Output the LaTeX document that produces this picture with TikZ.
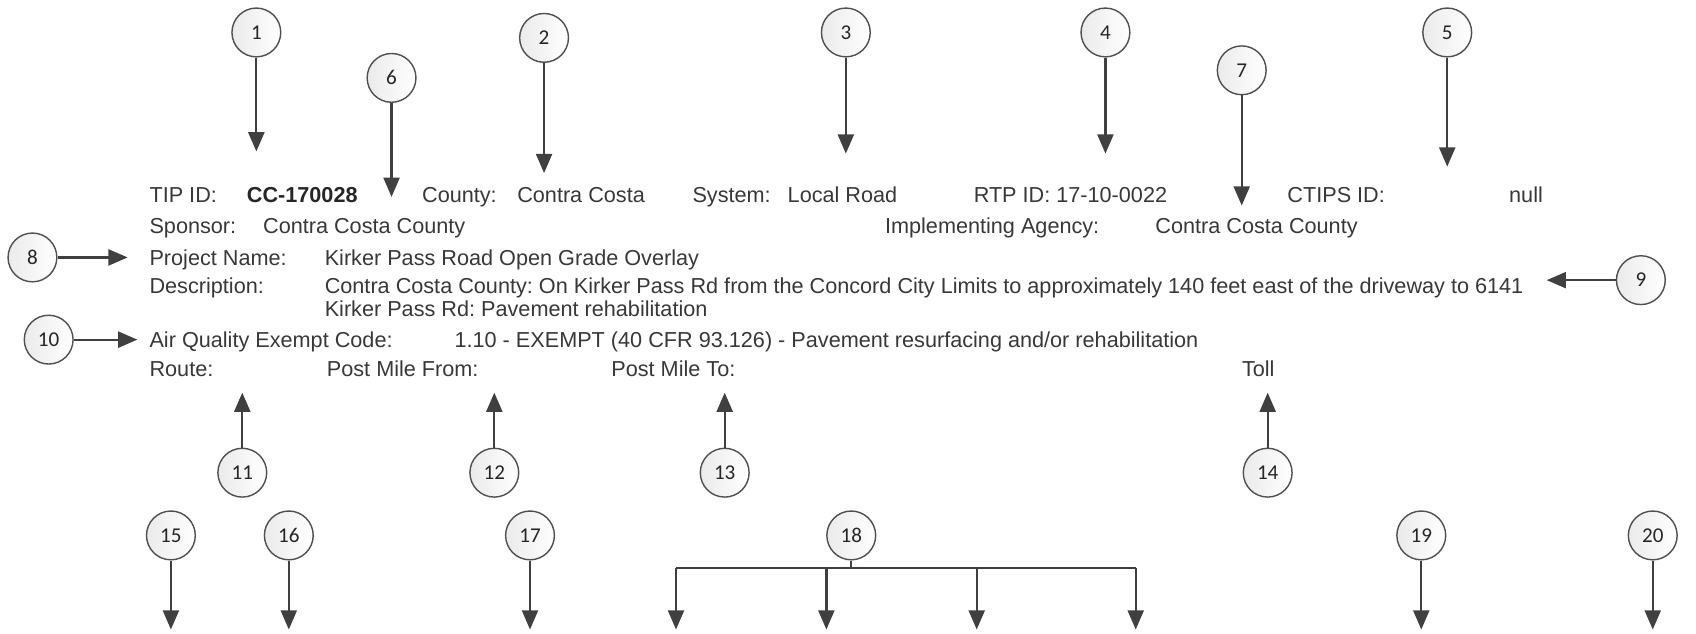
\documentclass[tikz,border=0pt]{standalone}
\usepackage{fontspec}
\setmainfont{Liberation Sans}
\newfontfamily\numfont{Carlito}
\usepackage{xcolor}
\usetikzlibrary{positioning,calc,arrows.meta}
\frenchspacing

\definecolor{txtgray}{HTML}{383838}
\definecolor{arrgray}{HTML}{404040}
\definecolor{rimgray}{HTML}{505050}

\begin{document}
\begin{tikzpicture}[
						x=0.02704cm, y=-0.02704cm,
						% Vòng tròn đánh số
						num/.style={
							circle, draw=rimgray, line width=1pt,
							left color=gray!16, right color=white,
							minimum size=1.22cm, inner sep=0pt,
							font=\numfont\fontsize{15}{17}\selectfont, text=black!85
						},
						% Mũi tên chỉ vào trường
						callout/.style={
							-{Triangle[length=0.48cm, width=0.4cm]}, arrgray, line width=1.6pt
						},
						% Đường nhánh không có mũi tên
						branch/.style={
							arrgray, line width=1.6pt
						},
						% Chữ của biểu mẫu
						fld/.style={
							anchor=base west, inner sep=0pt, text=txtgray,
							font=\fontsize{15.4}{18}\selectfont
						}
						]
						
						\useasboundingbox (0,0) rectangle (1568,586);
						
						% --- Các trường của biểu mẫu ---
						\node[fld] (tipL) at (138,187) {TIP ID:};
						\node[fld, font=\fontsize{15.4}{18}\selectfont\bfseries, text=black!85] (tipV) at (228,187) {CC-170028};
						\node[fld] (cntL) at (390,187) {County:};
						\node[fld] (cntV) at (478,187) {Contra Costa};
						\node[fld] (sysL) at (640,187) {System:};
						\node[fld] (sysV) at (728,187) {Local Road};
						\node[fld] (rtp) at (900,187) {RTP ID: 17-10-0022};
						\node[fld] (ctL) at (1190,187) {CTIPS ID:};
						\node[fld] (ctV) at (1395,187) {null};
						
						\node[fld] (spL) at (138,216) {Sponsor:};
						\node[fld] (spV) at (243,216) {Contra Costa County};
						\node[fld] (imL) at (818,216) {Implementing Agency:};
						\node[fld] (imV) at (1068,216) {Contra Costa County};
						
						\node[fld] (pnL) at (138,245) {Project Name:};
						\node[fld] (pnV) at (300,245) {Kirker Pass Road Open Grade Overlay};
						
						\node[fld] (dsL) at (138,271) {Description:};
						\node[fld] (dsV) at (300,271) {Contra Costa County: On Kirker Pass Rd from the Concord City Limits to approximately 140 feet east of the driveway to 6141};
						\node[fld] (dsW) at (300,293) {Kirker Pass Rd: Pavement rehabilitation};
						
						\node[fld] (aqL) at (138,321) {Air Quality Exempt Code:};
						\node[fld] (aqV) at (420,321) {1.10 - EXEMPT (40 CFR 93.126) - Pavement resurfacing and/or rehabilitation};
						
						\node[fld] (rtL) at (138,348) {Route:};
						\node[fld] (pmF) at (302,348) {Post Mile From:};
						\node[fld] (pmT) at (565,348) {Post Mile To:};
						\node[fld] (toll) at (1148,348) {Toll};
						
						% --- Vòng tròn phía trên, mũi tên xuống ---
						\foreach \n/\x/\y/\ty in {1/237/30/140, 2/503/35/160, 3/782/30/142, 4/1022/30/142,
							5/1338/30/154, 6/362/72/182, 7/1148/65/190} {
							\node[num] (c\n) at (\x,\y) {\n};
							\coordinate (t\n) at (\x,\ty);
							\draw[callout] (c\n) -- (t\n);
						}
						
						% --- Vòng tròn bên trái / phải, mũi tên ngang ---
						\node[num] (c8) at (30,238) {8};
						\coordinate (t8) at (118,238);
						\draw[callout] (c8) -- (t8);
						
						\node[num] (c9) at (1517,259) {9};
						\coordinate (t9) at (1430,259);
						\draw[callout] (c9) -- (t9);
						
						\node[num] (c10) at (45,314) {10};
						\coordinate (t10) at (127,314);
						\draw[callout] (c10) -- (t10);
						
						% --- Vòng tròn bên dưới, mũi tên lên ---
						\foreach \n/\x in {11/224, 12/457, 13/670, 14/1172} {
							\node[num] (c\n) at (\x,437) {\n};
							\coordinate (t\n) at (\x,363);
							\draw[callout] (c\n) -- (t\n);
						}
						
						% --- Hàng cuối, mũi tên xuống ---
						\foreach \n/\x in {15/158, 16/267, 17/490, 19/1314, 20/1528} {
							\node[num] (c\n) at (\x,495) {\n};
							\coordinate (t\n) at (\x,582);
							\draw[callout] (c\n) -- (t\n);
						}
						
						% Vòng 18 rẽ nhánh ra bốn mũi tên
						\node[num] (c18) at (787,495) {18};
						\coordinate (j18) at (787,525);
						\coordinate (bl) at (625,525);
						\coordinate (br) at (1050,525);
						\draw[branch] (c18) -- (j18);
						\draw[branch] (bl) -- (br);
						\foreach \k/\x in {a/625, b/764, c/903, d/1050} {
							\coordinate (s\k) at (\x,525);
							\coordinate (e\k) at (\x,582);
							\draw[callout] (s\k) -- (e\k);
						}
						
					\end{tikzpicture}
\end{document}
